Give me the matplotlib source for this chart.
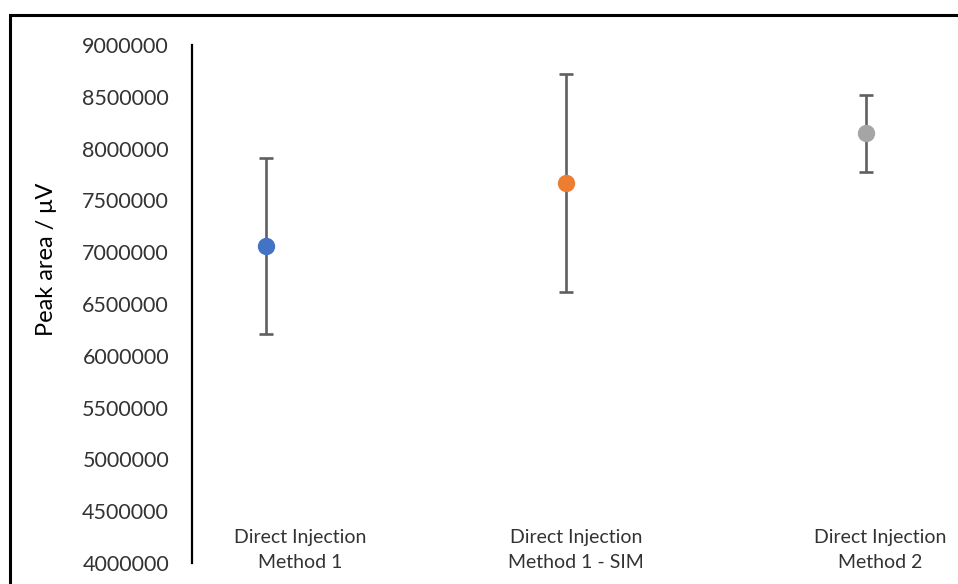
import numpy as np
import matplotlib.pyplot as plt
from matplotlib.patches import Rectangle

# dane
kategorie = ["Direct Injection\nMethod 1", "Direct Injection\nMethod 1 - SIM", "Direct Injection\nMethod 2"]
srednie = [7060000, 7670000, 8150000]
bledy = [850000, 1052000, 372000]
kolory = ["#4472C4", "#ED7D31", "#A5A5A5"]
y_ticki = np.arange(4000000, 9000001, 500000)

plt.rcParams['font.family'] = ['Lato', 'DejaVu Sans']

W, H = 958, 584
fig = plt.figure(figsize=(W / 100, H / 100), dpi=100)

# ramka wokol wykresu (ucieta z prawej i z dolu)
fig.patches.append(Rectangle((10 / W, -0.1), 1.2, (H - 15) / H + 0.1,
                             transform=fig.transFigure, fill=False,
                             edgecolor="black", linewidth=2.2))

ax = fig.add_axes([192 / W, 21 / H, (W - 192) / W, 518 / H])
x = np.arange(1, len(kategorie) + 1)
for i in range(len(kategorie)):
    ax.errorbar(x[i], srednie[i], yerr=bledy[i], fmt='o', color=kolory[i],
                markersize=11.5, ecolor="#5f5f5f", elinewidth=1.9,
                capsize=5, capthick=1.9, zorder=3)

ax.set_ylim(4000000, 9000000)
ax.set_xlim(1 - 74 / 300, 1 + (W - 266) / 300)
ax.set_yticks(y_ticki)
ax.set_yticklabels([str(v) for v in y_ticki], fontsize=15.5, color="#333333")
ax.tick_params(axis='y', length=0, pad=16.5)
ax.set_xticks([])
for s in ["top", "right", "bottom"]:
    ax.spines[s].set_visible(False)
ax.spines["left"].set_linewidth(1.6)
ax.spines["left"].set_color("black")

ax.set_ylabel("Peak area / μV", fontsize=17, color="black")
ax.yaxis.set_label_coords(-0.176, 0.587)

przesuniecia = [34, 10, 14]
for i in range(len(kategorie)):
    ax.annotate(kategorie[i], xy=(x[i], 0.0), xycoords=('data', 'axes fraction'),
                xytext=(przesuniecia[i] * 0.72, 13 * 0.72), textcoords='offset points',
                ha='center', va='center', fontsize=14, color="#333333",
                linespacing=1.55)

fig.savefig("out.png", dpi=100)
